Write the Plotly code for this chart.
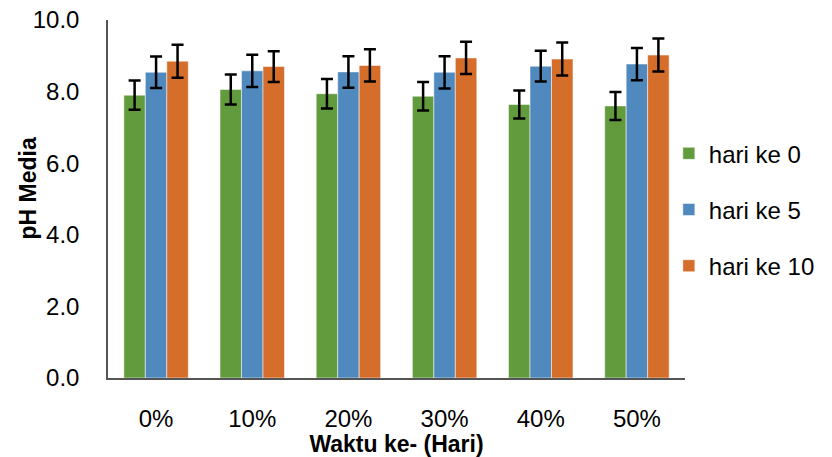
import plotly.graph_objects as go

categories = ["0%", "10%", "20%", "30%", "40%", "50%"]
series_names = ["hari ke 0", "hari ke 5", "hari ke 10"]
hari_0 = [7.90, 8.06, 7.94, 7.87, 7.64, 7.60]
hari_5 = [8.54, 8.58, 8.55, 8.54, 8.71, 8.77]
hari_10 = [8.85, 8.70, 8.73, 8.94, 8.91, 9.02]
err_0 = [0.41, 0.42, 0.41, 0.40, 0.39, 0.39]
err_5 = [0.44, 0.45, 0.44, 0.45, 0.43, 0.45]
err_10 = [0.46, 0.43, 0.45, 0.45, 0.46, 0.46]
colors = ["#629A3E", "#4F89BD", "#D56D2B"]

fig = go.Figure()
for i, (name, vals, errs, col) in enumerate(zip(series_names, [hari_0, hari_5, hari_10],
                                                [err_0, err_5, err_10], colors)):
    fig.add_trace(go.Bar(
        x=categories, y=vals, name=name, legendgroup=f"g{i}",
        marker=dict(color=col, line=dict(color="rgba(255,255,255,0.5)", width=1)),
        error_y=dict(type="data", array=errs, visible=True,
                     color="black", thickness=2.5, width=6),
    ))

font_family = "Liberation Sans, Arial, sans-serif"
plot_left, plot_right = 108, 701
plot_w = plot_right - plot_left

fig.update_layout(
    width=832, height=457,
    margin=dict(l=plot_left, r=832 - plot_right, t=20, b=79),
    paper_bgcolor="white", plot_bgcolor="white",
    barmode="group", bargap=0.33, bargroupgap=0,
    font=dict(family=font_family, size=24, color="black"),
    legend=dict(x=0.972, y=0.47, xanchor="left", yanchor="middle",
                font=dict(size=24), tracegroupgap=22, itemwidth=30,
                traceorder="grouped", bgcolor="rgba(0,0,0,0)"),
    xaxis=dict(
        automargin=False,
        showline=True, linecolor="#555555", linewidth=1.5,
        showgrid=False, ticks="", ticklabelstandoff=18,
        title=dict(text="<b>Waktu ke- (Hari)</b>", font=dict(size=23), standoff=0),
    ),
    yaxis=dict(
        automargin=False,
        range=[0, 10], tickvals=[0, 2, 4, 6, 8, 10],
        ticktext=["0.0", "2.0", "4.0", "6.0", "8.0", "10.0"],
        showline=True, linecolor="#555555", linewidth=1.5,
        showgrid=False, zeroline=False, ticks="", ticklabelstandoff=22,
    ),
)

# vertical y-axis title placed just left of the tick labels
fig.add_annotation(
    text="<b>pH Media</b>", textangle=-90, showarrow=False,
    xref="paper", yref="paper", x=-(plot_left - 26) / plot_w, y=0.53,
    xanchor="center", yanchor="middle", font=dict(size=23),
)

fig.write_html("out.html")
